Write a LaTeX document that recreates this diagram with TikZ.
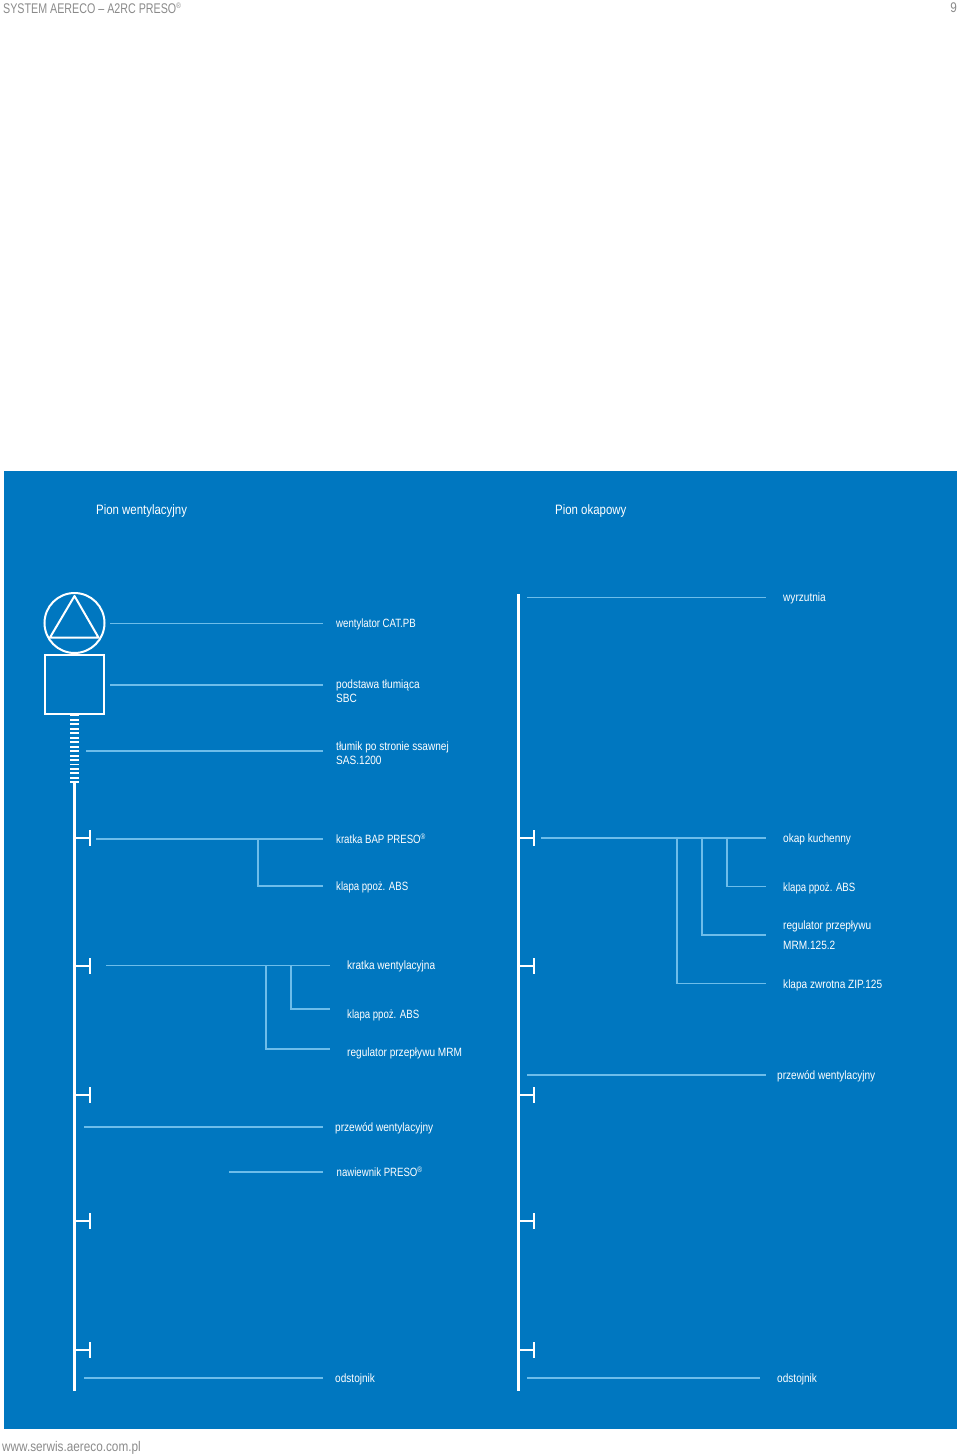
\documentclass[tikz,border=0pt]{standalone}
\usepackage{fontspec}
\setmainfont[FakeStretch=0.84]{Liberation Sans}
\definecolor{panel}{HTML}{0077C0}
\definecolor{leader}{HTML}{6DBDEA}
\definecolor{greytext}{HTML}{8A8A8A}
\tikzset{
 x=1pt,y=-1pt,
 pipe/.style={draw=white,line width=3.6pt},
 tick/.style={draw=white,line width=1.7pt},
 sym/.style={draw=white,line width=2pt},
 lead/.style={draw=leader,line width=1.1pt},
 lab/.style={anchor=west,inner sep=0pt,text=white,font=\fontsize{12}{14}\selectfont,align=left},
 head/.style={anchor=west,inner sep=0pt,text=white,font=\fontsize{13.6}{16}\selectfont},
 page/.style={anchor=west,inner sep=0pt,text=greytext,font=\fontsize{14}{16}\selectfont},
}
\newcommand{\regm}{\textsuperscript{\fontsize{8}{8}\selectfont ®}}
\newcommand{\tight}[1]{\scalebox{0.955}[1]{#1}}
\begin{document}
\begin{tikzpicture}
\useasboundingbox (0,0) rectangle (960,1455);
\fill[panel] (4,471) rectangle (957,1429);
\node[page] (hdr) at (3,8) {\scalebox{0.91}[1]{SYSTEM AERECO – A2RC PRESO\regm}};
\node[page,anchor=east] (pg) at (957,8) {9};
\node[page] (web) at (2,1448) {www.serwis.aereco.com.pl};
\node[head] (hL) at (96,511) {Pion wentylacyjny};
\node[head] (hR) at (555,511) {Pion okapowy};
% left riser
\coordinate (Ltop) at (74.5,782); \coordinate (Lbot) at (74.5,1391);
\draw[pipe] (Ltop) -- (Lbot);
\node[sym,circle,draw,minimum size=60pt,inner sep=0pt] (fan) at (74.5,623) {};
\coordinate (t1) at (74.5,596); \coordinate (t2) at (50,637.5); \coordinate (t3) at (98.5,637.5);
\draw[sym,line join=round] (t1) -- (t2) -- (t3) -- cycle;
\node[sym,rectangle,draw,minimum size=59pt,inner sep=0pt] (base) at (74.5,684.5) {};
\foreach \i in {0,...,15}{
 \coordinate (sa) at (70,715.5+\i*4.45); \coordinate (sb) at (79,715.5+\i*4.45);
 \draw[draw=white,line width=1.9pt] (sa) -- (sb);
}
\foreach \yy in {838,966,1095,1221,1350}{
 \coordinate (a) at (74.5,\yy); \coordinate (b) at (90,\yy);
 \coordinate (c) at (90,\yy-8); \coordinate (d) at (90,\yy+8);
 \draw[tick] (a) -- (b); \draw[tick] (c) -- (d);
}
% right riser
\coordinate (Rtop) at (518.5,594); \coordinate (Rbot) at (518.5,1391);
\draw[pipe] (Rtop) -- (Rbot);
\foreach \yy in {838,966,1095,1221,1350}{
 \coordinate (a) at (518.5,\yy); \coordinate (b) at (534,\yy);
 \coordinate (c) at (534,\yy-8); \coordinate (d) at (534,\yy+8);
 \draw[tick] (a) -- (b); \draw[tick] (c) -- (d);
}
% left labels
\node[lab] (l1) at (336,624) {\tight{wentylator CAT.PB}};
\node[lab] (l2) at (336,691) {podstawa tłumiąca\\SBC};
\node[lab] (l3) at (336,753) {tłumik po stronie ssawnej\\SAS.1200};
\node[lab] (l4) at (336,839) {\tight{kratka BAP PRESO\regm}};
\node[lab] (l5) at (336,887.5) {\tight{klapa ppoż. ABS}};
\node[lab] (l6) at (347,966.5) {kratka wentylacyjna};
\node[lab] (l7) at (347,1015.5) {\tight{klapa ppoż. ABS}};
\node[lab] (l8) at (347,1053.5) {regulator przepływu MRM};
\node[lab] (l9) at (335,1128.5) {przewód wentylacyjny};
\node[lab] (l10) at (336.5,1172) {\tight{nawiewnik PRESO\regm}};
\node[lab] (l11) at (335,1379.5) {odstojnik};
% right labels
\node[lab] (r1) at (783,598.5) {wyrzutnia};
\node[lab] (r2) at (783,839.5) {okap kuchenny};
\node[lab] (r3) at (783,888.5) {\tight{klapa ppoż. ABS}};
\node[lab] (r4) at (783,926.5) {regulator przepływu};
\node[lab] (r4b) at (783,945) {MRM.125.2};
\node[lab] (r5) at (783,985) {klapa zwrotna ZIP.125};
\node[lab] (r6) at (777,1076.5) {przewód wentylacyjny};
\node[lab] (r7) at (777,1379.5) {odstojnik};
% left leaders
\coordinate (e1) at (323,623.5); \coordinate (s1) at (110,623.5); \draw[lead] (s1) -- (e1);
\coordinate (e2) at (323,685); \coordinate (s2) at (110,685); \draw[lead] (s2) -- (e2);
\coordinate (e3) at (323,751); \coordinate (s3) at (86,751); \draw[lead] (s3) -- (e3);
\coordinate (e4) at (323,839); \coordinate (s4) at (96,839); \draw[lead] (s4) -- (e4);
\coordinate (j5) at (258,839); \coordinate (e5) at (323,886); \draw[lead] (j5) |- (e5);
\coordinate (e6) at (330,965.5); \coordinate (s6) at (106,965.5); \draw[lead] (s6) -- (e6);
\coordinate (j7) at (291,965.5); \coordinate (e7) at (330,1009); \draw[lead] (j7) |- (e7);
\coordinate (j8) at (266,965.5); \coordinate (e8) at (330,1049); \draw[lead] (j8) |- (e8);
\coordinate (e9) at (323,1127); \coordinate (s9) at (84,1127); \draw[lead] (s9) -- (e9);
\coordinate (e10) at (323,1172); \coordinate (s10) at (229,1172); \draw[lead] (s10) -- (e10);
\coordinate (e11) at (323,1378); \coordinate (s11) at (84,1378); \draw[lead] (s11) -- (e11);
% right leaders
\coordinate (f1) at (766,597.5); \coordinate (g1) at (527,597.5); \draw[lead] (g1) -- (f1);
\coordinate (f2) at (766,838); \coordinate (g2) at (541,838); \draw[lead] (g2) -- (f2);
\coordinate (k3) at (727,838); \coordinate (f3) at (766,886.5); \draw[lead] (k3) |- (f3);
\coordinate (k4) at (702,838); \coordinate (f4) at (766,935); \draw[lead] (k4) |- (f4);
\coordinate (k5) at (677,838); \coordinate (f5) at (766,983.5); \draw[lead] (k5) |- (f5);
\coordinate (f6) at (766,1075); \coordinate (g6) at (527,1075); \draw[lead] (g6) -- (f6);
\coordinate (f7) at (760,1378); \coordinate (g7) at (527,1378); \draw[lead] (g7) -- (f7);
\end{tikzpicture}
\end{document}
